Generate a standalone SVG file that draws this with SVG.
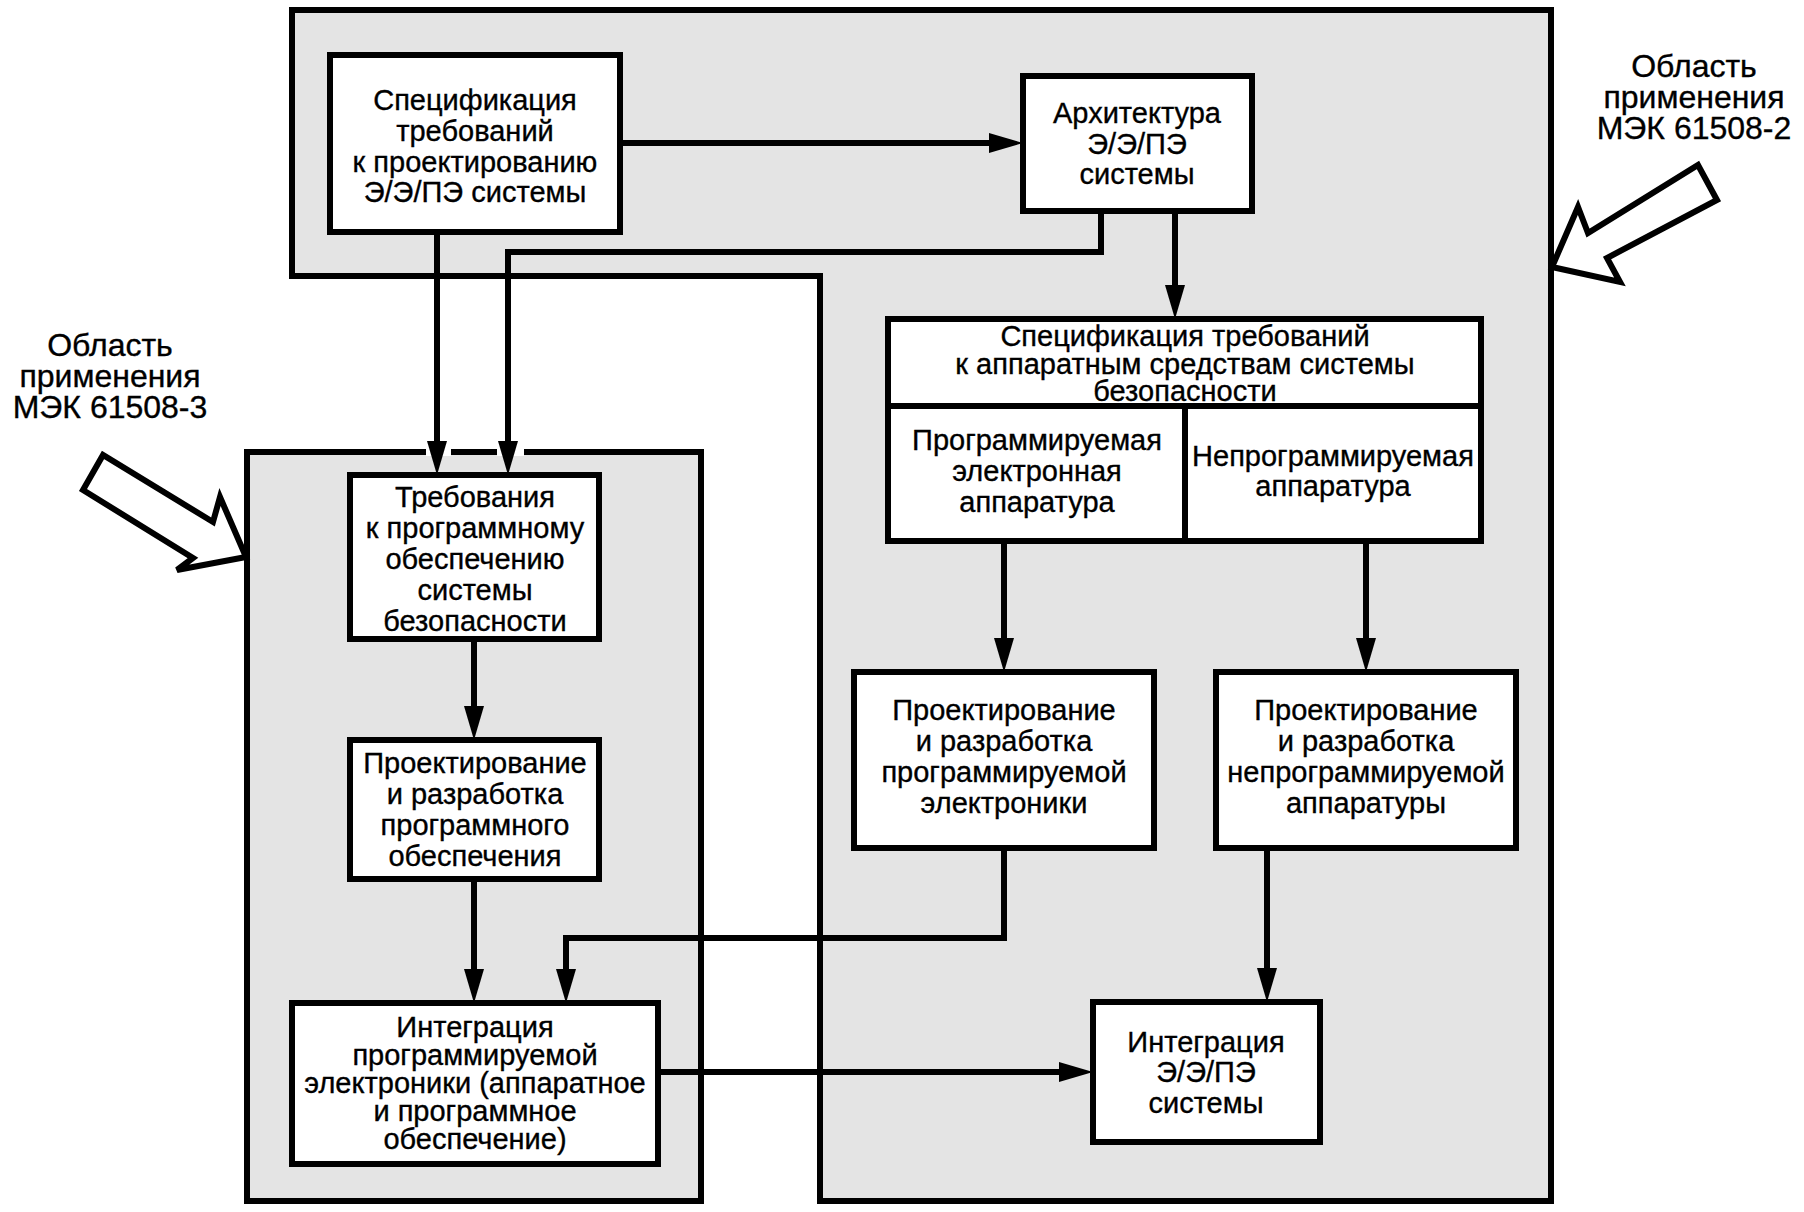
<svg xmlns="http://www.w3.org/2000/svg" width="1804" height="1212" viewBox="0 0 1804 1212">
<style>
.region{fill:#e4e4e4;stroke:#000;stroke-width:6}
.box{fill:#fff;stroke:#000;stroke-width:6}
.div{stroke:#000;stroke-width:6;fill:none}
.con{fill:none;stroke:#000;stroke-width:6;marker-end:url(#ah)}
.hollow{fill:#fff;stroke:#000;stroke-width:6;stroke-linejoin:miter}
text{font-family:"Liberation Sans",Arial,sans-serif;font-size:29px;text-anchor:middle;fill:#000;stroke:#000;stroke-width:0.35}
.lbl{font-size:32px}
</style>
<defs>
<marker id="ah" markerUnits="userSpaceOnUse" viewBox="0 -10 34 20" markerWidth="34" markerHeight="20" refX="2" refY="0" orient="auto">
<path d="M0,-10 L34,0 L0,10 Z" fill="#000"/>
</marker>
</defs>
<rect width="1804" height="1212" fill="#fff"/>
<g id="region-61508-2">
<polygon class="region" points="292,10 1551,10 1551,1201 820,1201 820,276 292,276"/>
</g>
<g id="region-61508-3">
<rect class="region" x="247" y="452" width="454" height="749"/>
<rect x="426" y="448" width="25" height="8" fill="#fff"/>
<rect x="497" y="448" width="27" height="8" fill="#fff"/>
</g>
<g id="label-2">
<text class="lbl" x="1694" y="77">Область</text>
<text class="lbl" x="1694" y="108">применения</text>
<text class="lbl" x="1694" y="139">МЭК 61508-2</text>
<polygon class="hollow" points="1552,267 1578,207 1588,233 1698,165 1717,200 1607,258 1620,282"/>
</g>
<g id="label-3">
<text class="lbl" x="110" y="356">Область</text>
<text class="lbl" x="110" y="387">применения</text>
<text class="lbl" x="110" y="418">МЭК 61508-3</text>
<polygon class="hollow" points="246,557 177,570 193,558 83,490 103,455 213,522 220,497"/>
</g>
<g id="connectors">
<path class="con" d="M620,143 H991"/>
<path class="con" d="M437,232 V443"/>
<path class="con" d="M1101,211 V252 H508 V443"/>
<path class="con" d="M1175,211 V287"/>
<path class="con" d="M1004,541 V640"/>
<path class="con" d="M1366,541 V640"/>
<path class="con" d="M474,639 V708"/>
<path class="con" d="M474,879 V971"/>
<path class="con" d="M1004,848 V938 H566 V971"/>
<path class="con" d="M658,1072 H1061"/>
<path class="con" d="M1267,848 V970"/>
</g>
<g id="n-spec-design">
<rect class="box" x="330" y="55" width="290" height="177"/>
<text x="475" y="110">Спецификация</text>
<text x="475" y="141">требований</text>
<text x="475" y="172">к проектированию</text>
<text x="475" y="202">Э/Э/ПЭ системы</text>
</g>
<g id="n-architecture">
<rect class="box" x="1023" y="76" width="229" height="135"/>
<text x="1137" y="123">Архитектура</text>
<text x="1137" y="154">Э/Э/ПЭ</text>
<text x="1137" y="184">системы</text>
</g>
<g id="n-hw-spec">
<rect class="box" x="888" y="319" width="593" height="222"/>
<line class="div" x1="888" y1="406" x2="1481" y2="406"/>
<line class="div" x1="1185" y1="406" x2="1185" y2="541"/>
<text x="1185" y="346">Спецификация требований</text>
<text x="1185" y="374">к аппаратным средствам системы</text>
<text x="1185" y="401">безопасности</text>
<text x="1037" y="450">Программируемая</text>
<text x="1037" y="481">электронная</text>
<text x="1037" y="512">аппаратура</text>
<text x="1333" y="466">Непрограммируемая</text>
<text x="1333" y="496">аппаратура</text>
</g>
<g id="n-sw-req">
<rect class="box" x="350" y="475" width="249" height="164"/>
<text x="475" y="507">Требования</text>
<text x="475" y="538">к программному</text>
<text x="475" y="569">обеспечению</text>
<text x="475" y="600">системы</text>
<text x="475" y="631">безопасности</text>
</g>
<g id="n-sw-dev">
<rect class="box" x="350" y="740" width="249" height="139"/>
<text x="475" y="773">Проектирование</text>
<text x="475" y="804">и разработка</text>
<text x="475" y="835">программного</text>
<text x="475" y="866">обеспечения</text>
</g>
<g id="n-pe-integration">
<rect class="box" x="292" y="1003" width="366" height="161"/>
<text x="475" y="1037">Интеграция</text>
<text x="475" y="1065">программируемой</text>
<text x="475" y="1093">электроники (аппаратное</text>
<text x="475" y="1121">и программное</text>
<text x="475" y="1149">обеспечение)</text>
</g>
<g id="n-pe-dev">
<rect class="box" x="854" y="672" width="300" height="176"/>
<text x="1004" y="720">Проектирование</text>
<text x="1004" y="751">и разработка</text>
<text x="1004" y="782">программируемой</text>
<text x="1004" y="813">электроники</text>
</g>
<g id="n-nonpe-dev">
<rect class="box" x="1216" y="672" width="300" height="176"/>
<text x="1366" y="720">Проектирование</text>
<text x="1366" y="751">и разработка</text>
<text x="1366" y="782">непрограммируемой</text>
<text x="1366" y="813">аппаратуры</text>
</g>
<g id="n-system-integration">
<rect class="box" x="1093" y="1002" width="227" height="140"/>
<text x="1206" y="1052">Интеграция</text>
<text x="1206" y="1082">Э/Э/ПЭ</text>
<text x="1206" y="1113">системы</text>
</g>
</svg>
